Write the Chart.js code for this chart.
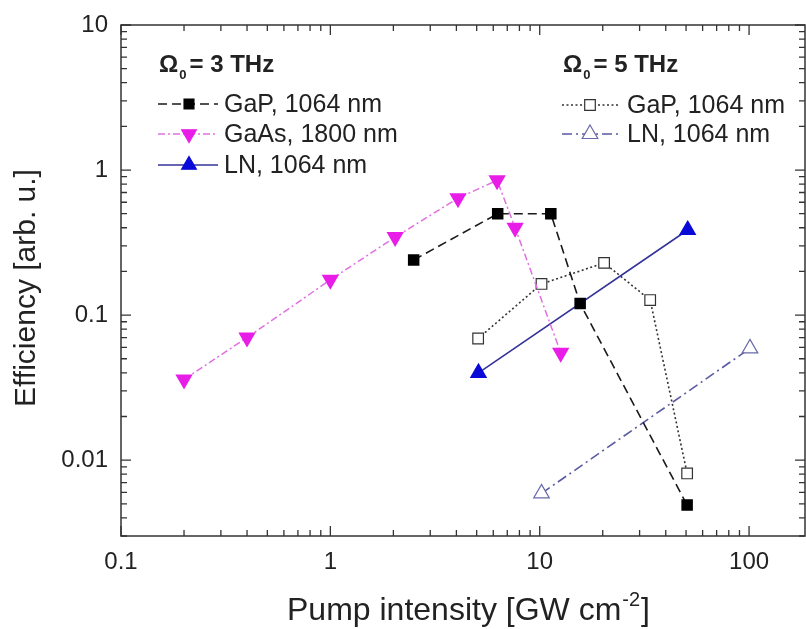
<!DOCTYPE html>
<html>
<head>
<meta charset="utf-8">
<script src="https://cdn.jsdelivr.net/npm/chart.js@4.4.1/dist/chart.umd.min.js"></script>
<style>
  html, body { margin: 0; padding: 0; background: #fff; }
</style>
</head>
<body>
<canvas id="chart" width="806" height="629"></canvas>
<script>
// values
const gap3X = [2.5, 6.3, 11.3, 15.6, 50.6];
const gap3Y = [0.24, 0.5, 0.5, 0.12, 0.0049];
const gaasX = [0.2, 0.4, 1, 2.04, 4.07, 6.26, 7.63, 12.6];
const gaasY = [0.036, 0.07, 0.175, 0.345, 0.64, 0.85, 0.4, 0.055];
const ln3X = [5.1, 50.9];
const ln3Y = [0.04, 0.386];
const gap5X = [5.08, 10.2, 20.3, 33.7, 50.6];
const gap5Y = [0.069, 0.164, 0.229, 0.127, 0.0081];
const ln5X = [10.2, 101];
const ln5Y = [0.0059, 0.059];

const xTickLabels = [0.1, 1, 10, 100];
const yTickLabels = [0.01, 0.1, 1, 10];

const FONT = '"Liberation Sans", Arial, Helvetica, sans-serif';
const INK = '#222';

function toPoints(xs, ys) {
    return xs.map((x, i) => ({ x: x, y: ys[i] }));
}

// 1..9 per decade, major at 1
function logTicks(min, max) {
    const out = [];
    for (let e = Math.floor(Math.log10(min)); e <= Math.ceil(Math.log10(max)); e++) {
        for (let m = 1; m <= 9; m++) {
            const v = m * Math.pow(10, e);
            if (v >= min * 0.999 && v <= max * 1.001) out.push({ value: v, major: m === 1 });
        }
    }
    return out;
}

function labelFor(list) {
    return (value) => {
        const hit = list.find(l => Math.abs(l - value) / l < 1e-6);
        return hit === undefined ? '' : String(hit);
    };
}

function drawMarker(ctx, style, x, y, r, fill, stroke, rotation) {
    ctx.save();
    ctx.beginPath();
    if (style === 'rect') {
        const s = Math.SQRT1_2 * r;
        ctx.rect(x - s, y - s, 2 * s, 2 * s);
    } else {
        let a = (rotation || 0) * Math.PI / 180;
        ctx.moveTo(x + Math.sin(a) * r, y - Math.cos(a) * r);
        a += 2 * Math.PI / 3;
        ctx.lineTo(x + Math.sin(a) * r, y - Math.cos(a) * r);
        a += 2 * Math.PI / 3;
        ctx.lineTo(x + Math.sin(a) * r, y - Math.cos(a) * r);
        ctx.closePath();
    }
    ctx.fillStyle = fill;
    ctx.fill();
    ctx.lineWidth = 1.2;
    ctx.strokeStyle = stroke;
    ctx.stroke();
    ctx.restore();
}

const framePlugin = {
    id: 'frame',
    afterDraw(chart) {
        const ctx = chart.ctx;
        const a = chart.chartArea;
        const xs = chart.scales.x, ys = chart.scales.y;
        ctx.save();
        ctx.strokeStyle = '#333';
        ctx.lineWidth = 1.5;
        ctx.strokeRect(a.left, a.top, a.right - a.left, a.bottom - a.top);

        // inward ticks on all four sides
        ctx.lineWidth = 1.3;
        ctx.beginPath();
        xs.ticks.forEach(t => {
            const px = xs.getPixelForValue(t.value);
            const len = t.major ? 10 : 6;
            ctx.moveTo(px, a.bottom); ctx.lineTo(px, a.bottom - len);
            ctx.moveTo(px, a.top); ctx.lineTo(px, a.top + len);
        });
        ys.ticks.forEach(t => {
            const py = ys.getPixelForValue(t.value);
            const len = t.major ? 10 : 6;
            ctx.moveTo(a.left, py); ctx.lineTo(a.left + len, py);
            ctx.moveTo(a.right, py); ctx.lineTo(a.right - len, py);
        });
        ctx.stroke();

        // axis titles
        ctx.fillStyle = INK;
        ctx.textBaseline = 'alphabetic';
        ctx.textAlign = 'left';
        ctx.font = '32px ' + FONT;
        const main = 'Pump intensity [GW cm';
        let x0 = 287;
        ctx.fillText(main, x0, 620);
        x0 += ctx.measureText(main).width + 1;
        ctx.font = '20px ' + FONT;
        ctx.fillText('-2', x0, 606);
        x0 += ctx.measureText('-2').width + 1;
        ctx.font = '32px ' + FONT;
        ctx.fillText(']', x0, 620);

        ctx.save();
        ctx.translate(35, 288);
        ctx.rotate(-Math.PI / 2);
        ctx.font = '30px ' + FONT;
        ctx.textAlign = 'center';
        ctx.fillText('Efficiency [arb. u.]', 0, 0);
        ctx.restore();

        // legend groups
        const groups = [
            { freq: '3', x: 159, base: 72, lineFrom: 158, lineTo: 218, mark: 189, text: 224,
              rows: [[0, 112], [1, 142], [2, 173]] },
            { freq: '5', x: 563, base: 72, lineFrom: 562, lineTo: 619, mark: 590, text: 627,
              rows: [[3, 113], [4, 142]] }
        ];
        groups.forEach(g => {
            ctx.font = 'bold 24px ' + FONT;
            ctx.fillStyle = INK;
            ctx.fillText('\u03A9', g.x, g.base);
            let cx = g.x + ctx.measureText('\u03A9').width + 1;
            ctx.font = 'bold 13px ' + FONT;
            ctx.fillText('0', cx, g.base + 7);
            cx += ctx.measureText('0').width + 3;
            ctx.font = 'bold 24px ' + FONT;
            ctx.fillText('= ' + g.freq + ' THz', cx, g.base);

            g.rows.forEach(([i, base]) => {
                const ds = chart.data.datasets[i];
                const cy = base - 8;
                ctx.save();
                ctx.strokeStyle = ds.borderColor;
                ctx.lineWidth = ds.borderWidth;
                ctx.setLineDash(ds.borderDash || []);
                ctx.beginPath();
                ctx.moveTo(g.lineFrom, cy);
                ctx.lineTo(g.lineTo, cy);
                ctx.stroke();
                ctx.restore();
                drawMarker(ctx, ds.pointStyle, g.mark, cy, ds.pointRadius,
                    ds.pointBackgroundColor, ds.pointBorderColor, ds.pointRotation);
                ctx.font = '25px ' + FONT;
                ctx.fillStyle = INK;
                ctx.fillText(ds.label, g.text, base);
            });
        });
        ctx.restore();
    }
};

new Chart(document.getElementById('chart'), {
    type: 'scatter',
    data: {
        datasets: [
            {
                label: 'GaP, 1064 nm',
                data: toPoints(gap3X, gap3Y),
                showLine: true,
                borderColor: '#1a1a1a',
                borderWidth: 1.6,
                borderDash: [9, 5],
                pointStyle: 'rect',
                pointRadius: 7,
                pointBackgroundColor: '#000',
                pointBorderColor: '#000'
            },
            {
                label: 'GaAs, 1800 nm',
                data: toPoints(gaasX, gaasY),
                showLine: true,
                borderColor: '#e070e0',
                borderWidth: 1.5,
                borderDash: [7, 3, 2, 3],
                pointStyle: 'triangle',
                pointRotation: 180,
                pointRadius: 8.5,
                pointBackgroundColor: '#e81ee8',
                pointBorderColor: '#e81ee8'
            },
            {
                label: 'LN, 1064 nm',
                data: toPoints(ln3X, ln3Y),
                showLine: true,
                borderColor: '#33339a',
                borderWidth: 1.6,
                pointStyle: 'triangle',
                pointRadius: 8.5,
                pointBackgroundColor: '#0a0ad8',
                pointBorderColor: '#0a0ad8'
            },
            {
                label: 'GaP, 1064 nm',
                data: toPoints(gap5X, gap5Y),
                showLine: true,
                borderColor: '#333',
                borderWidth: 1.6,
                borderDash: [2, 2.5],
                pointStyle: 'rect',
                pointRadius: 7.5,
                pointBackgroundColor: '#fff',
                pointBorderColor: '#333',
                pointBorderWidth: 1.2
            },
            {
                label: 'LN, 1064 nm',
                data: toPoints(ln5X, ln5Y),
                showLine: true,
                borderColor: '#5a5aa2',
                borderWidth: 1.6,
                borderDash: [10, 4, 2, 4],
                pointStyle: 'triangle',
                pointRadius: 9,
                pointBackgroundColor: '#fff',
                pointBorderColor: '#6a6aaa',
                pointBorderWidth: 1.2
            }
        ]
    },
    options: {
        responsive: false,
        animation: false,
        devicePixelRatio: 1,
        layout: { autoPadding: false, padding: { top: 25, right: 1, left: 0, bottom: 0 } },
        plugins: {
            legend: { display: false },
            tooltip: { enabled: false }
        },
        scales: {
            x: {
                type: 'logarithmic',
                min: 0.1,
                max: 185,
                afterBuildTicks: (scale) => { scale.ticks = logTicks(scale.min, scale.max); },
                afterFit: (scale) => {
                    scale.height = 93;
                    scale.paddingLeft = 0;
                    scale.paddingRight = 0;
                },
                grid: { display: false },
                border: { display: false },
                ticks: {
                    autoSkip: false,
                    maxRotation: 0,
                    padding: 4,
                    color: INK,
                    font: { family: FONT, size: 24 },
                    callback: labelFor(xTickLabels)
                }
            },
            y: {
                type: 'logarithmic',
                min: 0.003,
                max: 10,
                afterBuildTicks: (scale) => { scale.ticks = logTicks(scale.min, scale.max); },
                afterFit: (scale) => {
                    scale.width = 121;
                    scale.paddingTop = 0;
                    scale.paddingBottom = 0;
                },
                grid: { display: false },
                border: { display: false },
                ticks: {
                    autoSkip: false,
                    padding: 5,
                    color: INK,
                    font: { family: FONT, size: 24 },
                    callback: labelFor(yTickLabels)
                }
            }
        }
    },
    plugins: [framePlugin]
});
</script>
</body>
</html>
